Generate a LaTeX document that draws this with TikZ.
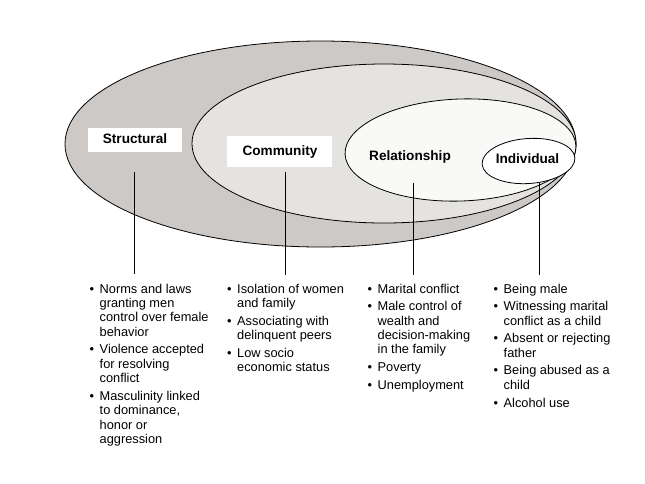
\documentclass[tikz,border=0pt]{standalone}
\usepackage{fontspec}
\setmainfont{Liberation Sans}
\newcommand{\bl}{\makebox[10pt][l]{\textbullet}}
\begin{document}
\begin{tikzpicture}[x=1pt,y=-1pt,
  ring/.style={draw=black,line width=0.8pt},
  lbl/.style={font=\fontsize{13.6}{16}\selectfont\bfseries,inner sep=0pt},
  lblbox/.style={fill=white,inner sep=0pt},
  list/.style={font=\fontsize{12.8}{14.4}\selectfont,inner sep=0pt,anchor=base west},
  conn/.style={draw=black,line width=0.7pt}]
\useasboundingbox (0,0) rectangle (645,483);
\fill[white] (0,0) rectangle (645,483);
% ellipses
\draw[ring,fill={rgb,255:red,205;green,201;blue,198}] (320.5,144) ellipse [x radius=255.5pt,y radius=103pt];
\draw[ring,fill={rgb,255:red,229;green,227;blue,224}] (384,143.5) ellipse [x radius=192pt,y radius=79.5pt];
\draw[ring,fill={rgb,255:red,249;green,249;blue,248},rotate around={2:(460.5,150)}] (460.5,150) ellipse [x radius=115.5pt,y radius=51pt];
\draw[ring,fill=white,rotate around={4:(528.5,161)}] (528.5,161) ellipse [x radius=46.5pt,y radius=22.5pt];
% label boxes
\node[lblbox,minimum width=93.4pt,minimum height=23.4pt] (sbox) at (135,140) {};
\node[lblbox,minimum width=105pt,minimum height=30.7pt] (cbox) at (279,151.3) {};
\node[lbl] (struct) at (135,138.5) {Structural};
\node[lbl] (comm) at (280,151.7) {Community};
\node[lbl] (rel) at (410,156.7) {Relationship};
\node[lbl] (ind) at (527.5,158.5) {Individual};
% connectors
\coordinate (s1) at (134,171.7); \coordinate (s2) at (134,274);
\coordinate (c1) at (285,171.7); \coordinate (c2) at (285,275);
\coordinate (r1) at (413,183.3); \coordinate (r2) at (413,275);
\coordinate (i1) at (539.3,183.3); \coordinate (i2) at (539.3,275);
\draw[conn] (s1) -- (s2);
\draw[conn] (c1) -- (c2);
\draw[conn] (r1) -- (r2);
\draw[conn] (i1) -- (i2);
% lists
\node[list] (l1) at (89.5,293) {\begin{tabular}[t]{@{}l@{}l@{}}
\bl & Norms and laws\\
 & granting men\\
 & control over female\\
 & behavior\\[3.3pt]
\bl & Violence accepted\\
 & for resolving\\
 & conflict\\[3.3pt]
\bl & Masculinity linked\\
 & to dominance,\\
 & honor or\\
 & aggression
\end{tabular}};
\node[list] (l2) at (227,293) {\begin{tabular}[t]{@{}l@{}l@{}}
\bl & Isolation of women\\
 & and family\\[3.3pt]
\bl & Associating with\\
 & delinquent peers\\[3.3pt]
\bl & Low socio\\
 & economic status
\end{tabular}};
\node[list] (l3) at (367.5,293) {\begin{tabular}[t]{@{}l@{}l@{}}
\bl & Marital conflict\\[3.3pt]
\bl & Male control of\\
 & wealth and\\
 & decision-making\\
 & in the family\\[3.3pt]
\bl & Poverty\\[3.3pt]
\bl & Unemployment
\end{tabular}};
\node[list] (l4) at (493.5,293) {\begin{tabular}[t]{@{}l@{}l@{}}
\bl & Being male\\[3.3pt]
\bl & Witnessing marital\\
 & conflict as a child\\[3.3pt]
\bl & Absent or rejecting\\
 & father\\[3.3pt]
\bl & Being abused as a\\
 & child\\[3.3pt]
\bl & Alcohol use
\end{tabular}};
\end{tikzpicture}
\end{document}
